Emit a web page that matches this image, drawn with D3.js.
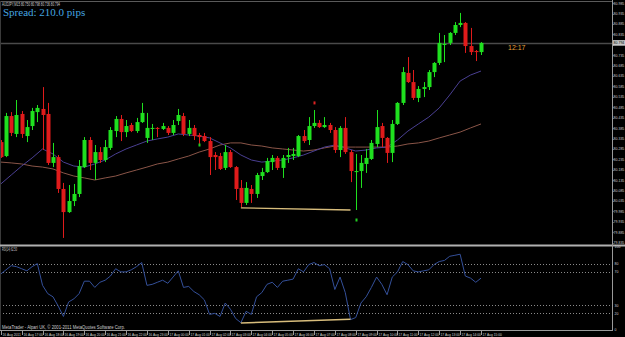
<!DOCTYPE html>
<html>
<head>
<meta charset="utf-8">
<script src="https://cdn.jsdelivr.net/npm/d3@7"></script>
<style>
	body { margin: 0; background: #000; overflow: hidden; }
	svg { display: block; }
	text { font-family: "Liberation Sans", Arial, sans-serif; }
</style>
</head>
<body>
<svg id="chart" width="625" height="337"></svg>
<script>
// AUDJPY M15 bars, 16 Aug 16:00 .. 17 Aug 15:00
const opens = [80.318, 80.251, 80.443, 80.357, 80.453, 80.347, 80.395, 80.462, 80.477, 80.453,
	80.218, 80.246, 80.093, 79.982, 80.035, 80.069, 80.198, 80.328, 80.218, 80.270,
	80.232, 80.290, 80.371, 80.429, 80.366, 80.400, 80.371, 80.414, 80.338, 80.381,
	80.386, 80.381, 80.386, 80.362, 80.419, 80.443, 80.357, 80.386, 80.352, 80.347,
	80.323, 80.256, 80.251, 80.194, 80.270, 80.198, 80.098, 80.026, 80.093, 80.069,
	80.155, 80.174, 80.222, 80.242, 80.194, 80.246, 80.251, 80.251, 80.347, 80.328,
	80.395, 80.410, 80.390, 80.400, 80.376, 80.280, 80.386, 80.270, 80.174, 80.179,
	80.213, 80.237, 80.309, 80.395, 80.338, 80.266, 80.405, 80.506, 80.650, 80.606,
	80.530, 80.573, 80.582, 80.654, 80.698, 80.784, 80.794, 80.842, 80.880, 80.890,
	80.779, 80.755, 80.750];
const highs = [80.328, 80.458, 80.462, 80.520, 80.467, 80.424, 80.482, 80.496, 80.582, 80.506,
	80.314, 80.256, 80.122, 80.112, 80.117, 80.232, 80.342, 80.342, 80.304, 80.294,
	80.328, 80.390, 80.443, 80.448, 80.424, 80.410, 80.434, 80.506, 80.458, 80.405,
	80.390, 80.410, 80.395, 80.424, 80.477, 80.458, 80.424, 80.400, 80.362, 80.362,
	80.342, 80.270, 80.266, 80.304, 80.280, 80.203, 80.136, 80.126, 80.112, 80.170,
	80.194, 80.242, 80.256, 80.251, 80.256, 80.290, 80.290, 80.352, 80.376, 80.438,
	80.472, 80.424, 80.438, 80.410, 80.390, 80.395, 80.438, 80.280, 80.261, 80.256,
	80.285, 80.328, 80.472, 80.410, 80.342, 80.424, 80.510, 80.678, 80.726, 80.664,
	80.587, 80.606, 80.664, 80.702, 80.842, 80.832, 80.846, 80.894, 80.938, 80.894,
	80.866, 80.760, 80.798];
const lows = [80.242, 80.246, 80.347, 80.342, 80.338, 80.318, 80.376, 80.414, 80.280, 80.208,
	80.198, 80.074, 79.858, 79.978, 80.011, 80.054, 80.194, 80.184, 80.136, 80.218,
	80.222, 80.280, 80.342, 80.323, 80.342, 80.366, 80.362, 80.410, 80.314, 80.328,
	80.342, 80.376, 80.352, 80.352, 80.400, 80.347, 80.347, 80.328, 80.304, 80.318,
	80.160, 80.184, 80.184, 80.184, 80.194, 80.040, 80.006, 80.016, 80.026, 80.050,
	80.136, 80.170, 80.184, 80.184, 80.146, 80.218, 80.232, 80.246, 80.314, 80.304,
	80.386, 80.386, 80.386, 80.362, 80.266, 80.246, 80.261, 80.126, 79.992, 80.098,
	80.170, 80.232, 80.294, 80.294, 80.218, 80.222, 80.400, 80.496, 80.602, 80.520,
	80.510, 80.534, 80.568, 80.630, 80.688, 80.702, 80.784, 80.832, 80.870, 80.746,
	80.736, 80.707, 80.736];
const closes = [80.246, 80.443, 80.362, 80.448, 80.357, 80.390, 80.467, 80.482, 80.448, 80.218,
	80.246, 80.093, 79.982, 80.035, 80.069, 80.203, 80.328, 80.218, 80.270, 80.232,
	80.294, 80.376, 80.429, 80.366, 80.395, 80.371, 80.414, 80.458, 80.386, 80.386,
	80.381, 80.395, 80.362, 80.400, 80.448, 80.357, 80.386, 80.347, 80.342, 80.323,
	80.246, 80.246, 80.189, 80.270, 80.198, 80.093, 80.026, 80.098, 80.069, 80.160,
	80.174, 80.227, 80.242, 80.194, 80.242, 80.256, 80.261, 80.347, 80.323, 80.395,
	80.410, 80.390, 80.400, 80.376, 80.280, 80.386, 80.270, 80.179, 80.179, 80.218,
	80.242, 80.314, 80.390, 80.338, 80.266, 80.405, 80.506, 80.654, 80.606, 80.530,
	80.573, 80.582, 80.654, 80.698, 80.794, 80.789, 80.842, 80.880, 80.890, 80.779,
	80.750, 80.750, 80.794];

// moving averages, read at every second bar
const maFastBars = d3.range(0, 93, 2);
const maFastValues = [80.117, 80.160, 80.203, 80.242, 80.285, 80.261, 80.222, 80.203, 80.198, 80.213,
	80.232, 80.261, 80.285, 80.304, 80.323, 80.333, 80.342, 80.357, 80.352, 80.347,
	80.338, 80.314, 80.290, 80.256, 80.232, 80.222, 80.227, 80.232, 80.242, 80.256,
	80.275, 80.294, 80.304, 80.290, 80.275, 80.280, 80.290, 80.294, 80.328, 80.371,
	80.405, 80.438, 80.482, 80.544, 80.611, 80.640, 80.659];
const maSlowBars = d3.range(0, 93, 2);
const maSlowValues = [80.222, 80.218, 80.213, 80.203, 80.198, 80.189, 80.170, 80.155, 80.146, 80.136,
	80.146, 80.155, 80.170, 80.184, 80.198, 80.213, 80.222, 80.237, 80.251, 80.270,
	80.285, 80.304, 80.314, 80.314, 80.304, 80.299, 80.290, 80.285, 80.280, 80.275,
	80.280, 80.290, 80.299, 80.294, 80.294, 80.294, 80.294, 80.294, 80.299, 80.309,
	80.314, 80.323, 80.338, 80.352, 80.366, 80.386, 80.405];

const rsiValues = [67.5, 72.5, 77.5, 76.3, 73.8, 71.3, 76.3, 80, 53.8, 43.8,
	40, 28.8, 16.3, 33.8, 37.5, 43.8, 58.8, 58.8, 51.3, 57.5,
	60, 65, 73.8, 70, 70, 72.5, 76.3, 81.3, 53.8, 55,
	57.5, 60, 56.3, 63.8, 71.3, 51.3, 52.5, 46.3, 42.5, 36.3,
	18.8, 20, 16.3, 32.5, 25, 13.8, 8.8, 22.5, 18.8, 40,
	45, 55, 57.5, 51.3, 58.8, 60, 61.3, 73.8, 70, 78.8,
	81.3, 77.5, 78.8, 73.8, 48.8, 63.8, 45, 12.5, 15, 32.5,
	40, 51.3, 63.8, 55, 42.5, 63.8, 70, 82.5, 78.8, 71.3,
	70, 71.3, 72.5, 78.8, 82.5, 83.8, 88.8, 90, 91.3, 65,
	62.5, 57.5, 62.5];
const rsiLevels = [80, 70, 30, 20];
const rsiAxisLabels = [100, 80, 70, 30, 20, 0];

// user trend lines (bar index, value)
const priceTrendBars = [46, 67];
const priceTrendValues = [80.002, 79.992];
const rsiTrendBars = [46, 67];
const rsiTrendValues = [8.5, 13];

// arrow markers
const markerBars = [38, 60, 68];
const markerPrices = [80.304, 80.506, 79.944];
const markerColors = ["#22cc22", "#dd2222", "#22cc22"];

const priceTicks = [80.985, 80.935, 80.885, 80.835, 80.785, 80.735, 80.685, 80.635, 80.585, 80.535,
	80.485, 80.435, 80.385, 80.335, 80.285, 80.235, 80.185, 80.135, 80.085, 80.035,
	79.985, 79.935, 79.885, 79.835];
const timeLabels = ["16 Aug 2011", "16 Aug 17:00", "16 Aug 18:00", "16 Aug 19:00", "16 Aug 20:00",
	"16 Aug 21:00", "16 Aug 22:00", "16 Aug 23:00", "17 Aug 00:00", "17 Aug 01:00",
	"17 Aug 02:00", "17 Aug 03:00", "17 Aug 04:00", "17 Aug 05:00", "17 Aug 06:00",
	"17 Aug 07:00", "17 Aug 08:00", "17 Aug 09:00", "17 Aug 10:00", "17 Aug 11:00",
	"17 Aug 12:00", "17 Aug 13:00", "17 Aug 14:00", "17 Aug 15:00"];
const currentPrice = 80.794;
const rsiCurrent = 62.5;
const countdown = "12:17";

const svg = d3.select("svg#chart");
const width = +svg.attr("width");
const height = +svg.attr("height");
const plotRight = 612;
const mainBottom = 245;
const rsiTop = 247;
const rsiBottom = 330;

const bull = "#1fe01f";
const bear = "#e01b1b";
const labelColor = "#cfcfcf";

svg.append("rect").attr("width", width).attr("height", height).attr("fill", "#000");

const x = d3.scaleLinear([0, 92], [0.8, 481]);
const y = d3.scaleLinear([81, 79.83], [0, 243.75]);
const yR = d3.scaleLinear([0, 100], [330, 247]);

const defs = svg.append("defs");
defs.append("clipPath").attr("id", "clipMain")
	.append("rect").attr("x", 0).attr("y", 0).attr("width", plotRight).attr("height", mainBottom);
defs.append("clipPath").attr("id", "clipRsi")
	.append("rect").attr("x", 0).attr("y", rsiTop).attr("width", plotRight).attr("height", rsiBottom - rsiTop);

const main = svg.append("g").attr("clip-path", "url(#clipMain)");
const rsiArea = svg.append("g").attr("clip-path", "url(#clipRsi)");

// bid line
main.append("line")
	.attr("x1", 0).attr("x2", plotRight)
	.attr("y1", Math.round(y(currentPrice)) + 0.5).attr("y2", Math.round(y(currentPrice)) + 0.5)
	.attr("stroke", "#4a4a4a").attr("stroke-width", 1.3);

// moving averages
const maLine = d3.line().x((d) => x(d[0])).y((d) => y(d[1]));
main.append("path")
	.attr("d", maLine(d3.zip(maSlowBars, maSlowValues)))
	.attr("fill", "none").attr("stroke", "#8a5548").attr("stroke-width", 1);
main.append("path")
	.attr("d", maLine(d3.zip(maFastBars, maFastValues)))
	.attr("fill", "none").attr("stroke", "#4a3f92").attr("stroke-width", 1);

// candles
const bars = d3.range(opens.length);
const candles = main.selectAll("g.candle").data(bars).join("g").attr("class", "candle");
candles.append("rect")
	.attr("x", (i) => Math.round(x(i)))
	.attr("width", 1)
	.attr("y", (i) => y(highs[i]))
	.attr("height", (i) => y(lows[i]) - y(highs[i]))
	.attr("fill", (i) => (closes[i] >= opens[i] ? bull : bear));
candles.append("rect")
	.attr("x", (i) => Math.round(x(i)) - 1.5)
	.attr("width", 4)
	.attr("y", (i) => y(Math.max(opens[i], closes[i])))
	.attr("height", (i) => Math.max(1, Math.abs(y(opens[i]) - y(closes[i]))))
	.attr("fill", (i) => (closes[i] >= opens[i] ? bull : bear));

// arrows
main.selectAll("rect.marker").data(markerBars).join("rect")
	.attr("class", "marker")
	.attr("x", (d) => Math.round(x(d)) - 0.5)
	.attr("y", (d, k) => y(markerPrices[k]) - 1.5)
	.attr("width", 2).attr("height", 3)
	.attr("fill", (d, k) => markerColors[k]);

// price trend line
main.append("line")
	.attr("x1", x(priceTrendBars[0])).attr("y1", y(priceTrendValues[0]))
	.attr("x2", x(priceTrendBars[1])).attr("y2", y(priceTrendValues[1]))
	.attr("stroke", "#d8bd7c").attr("stroke-width", 1.3);

// countdown
svg.append("text")
	.attr("x", 508).attr("y", 50)
	.attr("font-size", 7).attr("fill", "#e8a03a")
	.text(countdown);

// header texts
svg.append("text")
	.attr("x", 2).attr("y", 5.5)
	.attr("font-size", 5).attr("fill", labelColor)
	.attr("textLength", 58).attr("lengthAdjust", "spacingAndGlyphs")
	.text(`AUDJPY,M15  ${opens[92].toFixed(3)} ${highs[92].toFixed(3)} ${lows[92].toFixed(3)} ${closes[92].toFixed(3)}`);
svg.append("text")
	.attr("x", 3).attr("y", 15.5)
	.attr("font-size", 11).attr("fill", "#45a6e0")
	.style("font-family", "'Liberation Serif', 'Times New Roman', serif")
	.text("Spread: 210.0 pips");

// RSI panel
rsiArea.selectAll("line.level").data(rsiLevels).join("line")
	.attr("class", "level")
	.attr("x1", 0).attr("x2", plotRight)
	.attr("y1", (d) => Math.round(yR(d)) + 0.5).attr("y2", (d) => Math.round(yR(d)) + 0.5)
	.attr("stroke", "#8a8a8a").attr("stroke-dasharray", "1,2");
rsiArea.append("path")
	.attr("d", d3.line().x((d, i) => x(i)).y((d) => yR(d))(rsiValues))
	.attr("fill", "none").attr("stroke", "#34509a").attr("stroke-width", 1);
rsiArea.append("line")
	.attr("x1", x(rsiTrendBars[0])).attr("y1", yR(rsiTrendValues[0]))
	.attr("x2", x(rsiTrendBars[1])).attr("y2", yR(rsiTrendValues[1]))
	.attr("stroke", "#d8bd7c").attr("stroke-width", 1.5);
svg.append("text")
	.attr("x", 2).attr("y", 251)
	.attr("font-size", 4.5).attr("fill", labelColor)
	.attr("textLength", 15).attr("lengthAdjust", "spacingAndGlyphs")
	.text(`RSI(14) ${rsiCurrent.toFixed(2)}`);
svg.append("text")
	.attr("x", 2).attr("y", 328.5)
	.attr("font-size", 4.5).attr("fill", labelColor)
	.attr("textLength", 123).attr("lengthAdjust", "spacingAndGlyphs")
	.text("MetaTrader - Alpari UK, \u00a9 2001-2011 MetaQuotes Software Corp.");

// frame lines
const frame = svg.append("g").attr("stroke", "#9a9a9a").attr("stroke-width", 1);
frame.append("line").attr("x1", 0).attr("x2", plotRight).attr("y1", 1.5).attr("y2", 1.5).attr("stroke", "#5a5a5a");
frame.append("line").attr("x1", 0.5).attr("x2", 0.5).attr("y1", 1).attr("y2", rsiBottom).attr("stroke", "#3a3a3a");
frame.append("line").attr("x1", 0).attr("x2", width).attr("y1", mainBottom + 0.5).attr("y2", mainBottom + 0.5).attr("stroke-width", 2).attr("stroke", "#b0b0b0");
frame.append("line").attr("x1", 0).attr("x2", plotRight).attr("y1", rsiBottom + 0.5).attr("y2", rsiBottom + 0.5);
frame.append("line").attr("x1", plotRight + 0.5).attr("x2", plotRight + 0.5).attr("y1", 0).attr("y2", rsiBottom + 1);

// price axis (the label under the bid box is left out)
const shownTicks = priceTicks.filter((d) => Math.abs(y(d) - y(currentPrice)) > 5);
const priceAxis = svg.append("g");
priceAxis.selectAll("line").data(priceTicks).join("line")
	.attr("x1", plotRight).attr("x2", plotRight + 1.5)
	.attr("y1", (d) => Math.round(y(d)) + 0.5).attr("y2", (d) => Math.round(y(d)) + 0.5)
	.attr("stroke", "#9a9a9a");
priceAxis.selectAll("text").data(shownTicks).join("text")
	.attr("x", 613.6).attr("y", (d) => y(d) + 1.4)
	.attr("font-size", 3.5).attr("fill", labelColor)
	.text((d) => d.toFixed(3));
priceAxis.append("rect")
	.attr("x", 613).attr("y", y(currentPrice) - 2.8)
	.attr("width", 12).attr("height", 5.6)
	.attr("fill", "#c8c8c8");
priceAxis.append("text")
	.attr("x", 613.6).attr("y", y(currentPrice) + 1.4)
	.attr("font-size", 3.5).attr("fill", "#000")
	.text(currentPrice.toFixed(3));

// RSI axis
const rsiAxis = svg.append("g");
rsiAxis.selectAll("text").data(rsiAxisLabels).join("text")
	.attr("x", 614.5).attr("y", (d) => yR(d) + 1.4)
	.attr("font-size", 3.5).attr("fill", labelColor)
	.text((d) => d);

// time axis
const timeAxis = svg.append("g");
timeAxis.selectAll("line").data(timeLabels).join("line")
	.attr("x1", (d, h) => Math.round(x(h * 4)) + 0.5).attr("x2", (d, h) => Math.round(x(h * 4)) + 0.5)
	.attr("y1", rsiBottom + 1).attr("y2", rsiBottom + 5)
	.attr("stroke", "#9a9a9a");
timeAxis.selectAll("text").data(timeLabels).join("text")
	.attr("x", (d, h) => Math.round(x(h * 4)) + 1.5).attr("y", 335.5)
	.attr("font-size", 3.3).attr("fill", labelColor)
	.text((d) => d);
</script>
</body>
</html>
